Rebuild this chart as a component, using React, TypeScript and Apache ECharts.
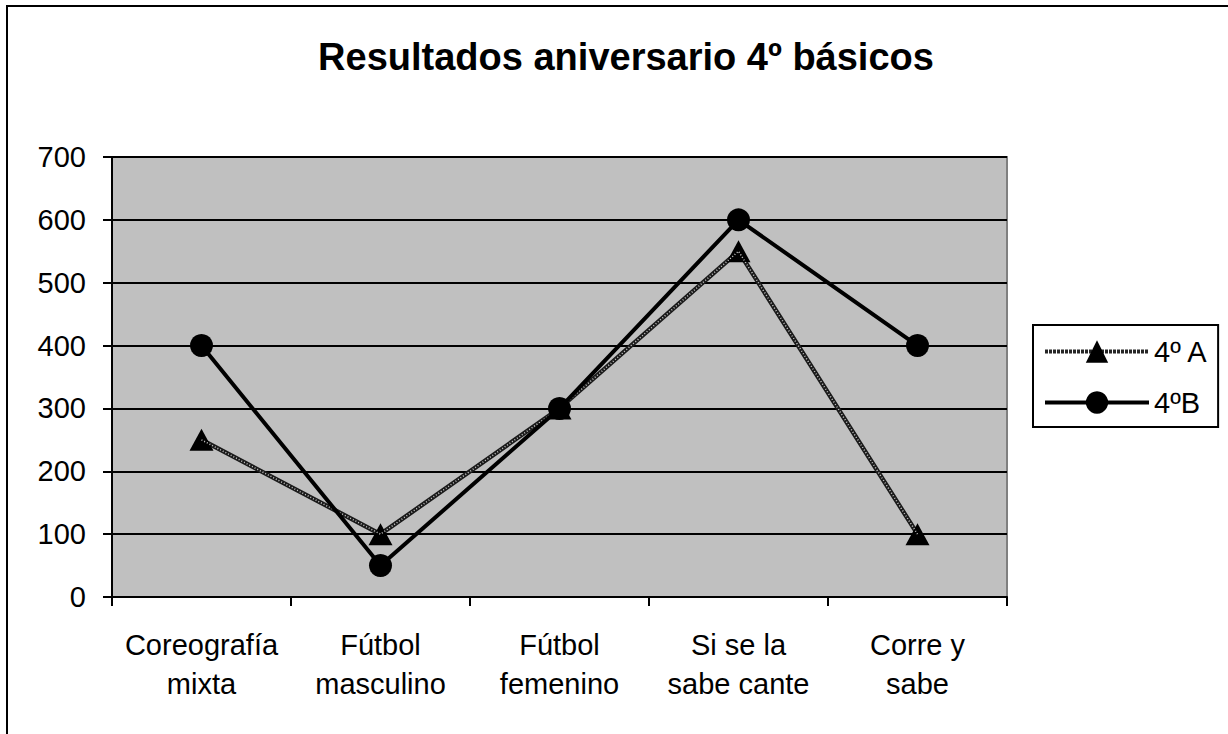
import React, { useEffect, useRef } from "react";
import * as echarts from "echarts";

const categories = ["Coreografía\nmixta", "Fútbol\nmasculino", "Fútbol\nfemenino", "Si se la\nsabe cante", "Corre y\nsabe"];
const serieA = [250, 100, 300, 550, 100];
const serieB = [400, 50, 300, 600, 400];
const yTicks = { min: 0, max: 700, interval: 100 };
const titleText = "Resultados aniversario 4º básicos";
const nameA = "4º A";
const nameB = "4ºB";

export default function App() {
  const ref = useRef<HTMLDivElement>(null);
  useEffect(() => {
    document.body.style.margin = "0";
    const chart = echarts.init(ref.current!, undefined, { renderer: "svg" });
    const font = "Liberation Sans, Arial, sans-serif";
    chart.setOption({
      animation: false,
      backgroundColor: "#ffffff",
      textStyle: { fontFamily: font },
      title: {
        text: titleText,
        left: 621,
        textAlign: "center",
        top: 33,
        textStyle: { fontSize: 38, fontWeight: "bold", color: "#000", fontFamily: font },
      },
      graphic: [
        {
          type: "rect",
          shape: { x: 7, y: 6, width: 1240, height: 760 },
          style: { fill: "none", stroke: "#000", lineWidth: 2 },
          silent: true,
        },
      ],
      grid: {
        left: 112,
        top: 157,
        right: 221,
        bottom: 137,
        show: true,
        backgroundColor: "#c0c0c0",
        borderColor: "#808080",
        borderWidth: 2,
      },
      legend: {
        orient: "vertical",
        left: 1033,
        top: 325,
        padding: [12, 10, 10, 10],
        itemGap: 22,
        itemWidth: 104,
        itemHeight: 28,
        borderColor: "#000",
        borderWidth: 2,
        lineStyle: { width: 4 },
        textStyle: { fontSize: 29, color: "#000", fontFamily: font, padding: [0, 0, 0, 0] },
        data: [
          { name: nameA, lineStyle: { color: "#262626", width: 4, type: [3, 1] } },
          { name: nameB },
        ],
      },
      xAxis: {
        type: "category",
        data: categories,
        boundaryGap: true,
        axisLine: { show: true, lineStyle: { color: "#000", width: 2 } },
        axisTick: { show: true, length: 9, lineStyle: { color: "#000", width: 2 } },
        axisLabel: { fontSize: 29, color: "#000", lineHeight: 39, margin: 28, fontFamily: font, interval: 0 },
      },
      yAxis: {
        type: "value",
        min: yTicks.min,
        max: yTicks.max,
        interval: yTicks.interval,
        axisLine: { show: true, lineStyle: { color: "#000", width: 2 } },
        axisTick: { show: true, length: 9, lineStyle: { color: "#000", width: 2 } },
        axisLabel: { fontSize: 29, color: "#000", margin: 26, fontFamily: font },
        splitLine: { show: true, lineStyle: { color: "#000", width: 2 } },
      },
      series: [
        {
          name: nameA,
          type: "line",
          data: serieA,
          symbol: "triangle",
          symbolSize: [24, 22],
          itemStyle: { color: "#000" },
          lineStyle: { color: "#1a1a1a", width: 4.5 },
          z: 2,
        },
        {
          name: nameA + " patrón",
          type: "line",
          data: serieA,
          symbol: "none",
          lineStyle: { color: "#c8c8c8", width: 1.5, type: [1, 2] },
          z: 3,
          silent: true,
        },
        {
          name: nameB,
          type: "line",
          data: serieB,
          symbol: "circle",
          symbolSize: 23,
          itemStyle: { color: "#000" },
          lineStyle: { color: "#000", width: 4 },
          z: 4,
        },
      ],
    });
    return () => chart.dispose();
  }, []);
  return <div ref={ref} style={{ position: "fixed", left: 0, top: 0, width: 1228, height: 734 }} />;
}
